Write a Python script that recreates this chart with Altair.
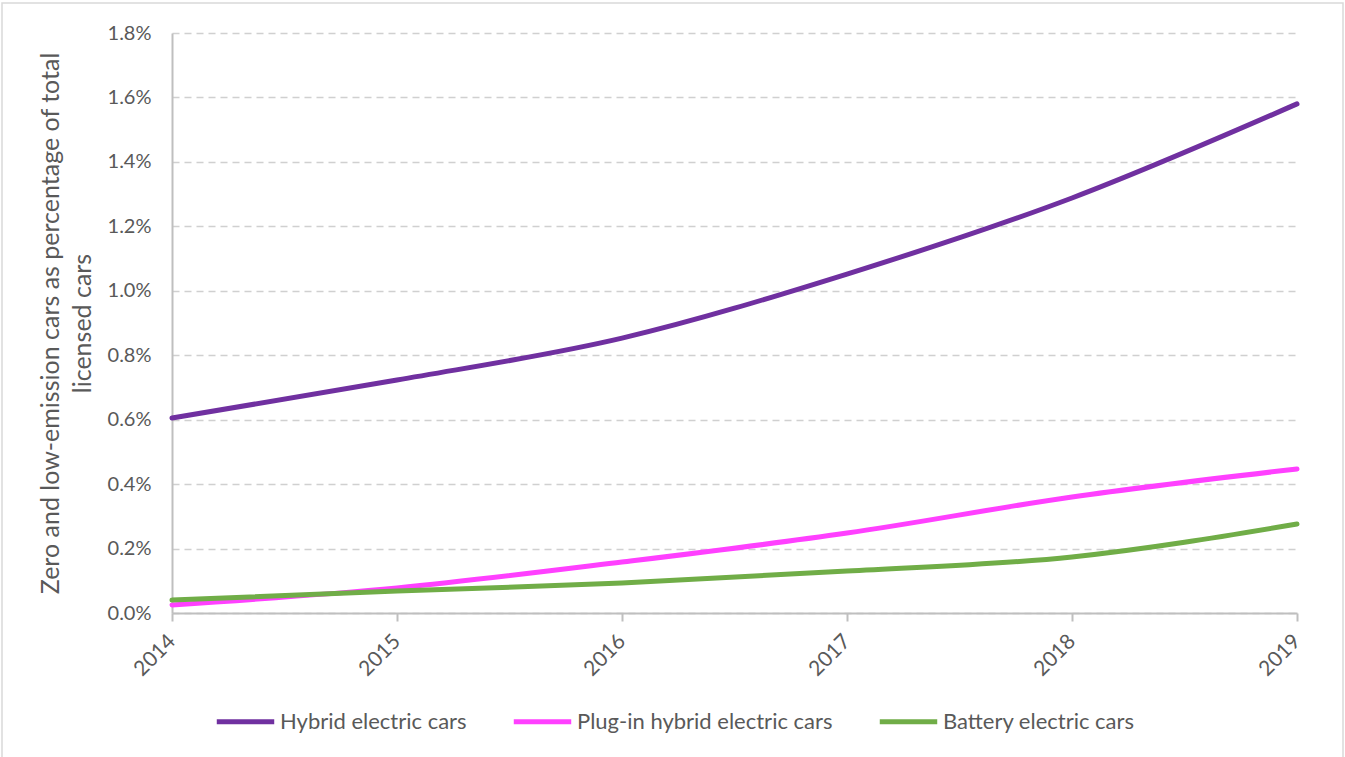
import altair as alt
import pandas as pd

years = ["2014", "2015", "2016", "2017", "2018", "2019"]
hybrid = [0.605, 0.723, 0.853, 1.052, 1.288, 1.580]
plugin = [0.025, 0.078, 0.158, 0.248, 0.360, 0.447]
battery = [0.040, 0.068, 0.093, 0.130, 0.174, 0.276]
series_names = ["Hybrid electric cars", "Plug-in hybrid electric cars", "Battery electric cars"]
series_colors = ["#7030A0", "#FF40FF", "#70AD47"]
y_ticks = [0.0, 0.002, 0.004, 0.006, 0.008, 0.010, 0.012, 0.014, 0.016, 0.018]

rows = []
for name, vals in zip(series_names, [hybrid, plugin, battery]):
    for yr, v in zip(years, vals):
        rows.append({"Year": yr, "Series": name, "Value": v / 100.0})
df = pd.DataFrame(rows)

FONT = "Lato"
GREY = "#595959"

lines = alt.Chart(df).mark_line(strokeWidth=5, interpolate="monotone", strokeCap="round").encode(
    x=alt.X("Year:O", sort=years,
            scale=alt.Scale(type="point", padding=0),
            axis=alt.Axis(title=None, labelAngle=-45, labelAlign="right", labelBaseline="middle",
                          labelFontSize=21, labelColor=GREY, labelFont=FONT, labelPadding=17,
                          domainColor="#bfbfbf", domainWidth=2, tickColor="#bfbfbf", tickWidth=2,
                          tickSize=8, grid=False)),
    y=alt.Y("Value:Q", scale=alt.Scale(domain=[0, 0.018], nice=False),
            axis=alt.Axis(values=y_ticks, format=".1%",
                          title=["Zero and low-emission cars as percentage of total", "licensed cars"],
                          titleFontSize=25, titleFont=FONT, titleColor=GREY, titleFontWeight="normal",
                          titlePadding=12, titleLineHeight=32,
                          labelFontSize=20, labelColor=GREY, labelFont=FONT, labelPadding=21,
                          domainColor="#bfbfbf", domainWidth=2, ticks=False,
                          grid=True, gridColor="#d0d0d0", gridDash=[7, 5], gridWidth=1.5)),
    color=alt.Color("Series:N", sort=series_names,
                    scale=alt.Scale(domain=series_names, range=series_colors),
                    legend=alt.Legend(title=None, orient="none", direction="horizontal",
                                      legendX=42, legendY=657, symbolType="stroke",
                                      symbolSize=3300, symbolStrokeWidth=5,
                                      labelFontSize=22, labelFont=FONT, labelColor=GREY,
                                      labelLimit=500, labelOffset=3, columnPadding=36, padding=0)),
)

frame = alt.Chart(pd.DataFrame({"a": [0]})).mark_rect(fill=None, stroke="#d9d9d9", strokeWidth=1.5).encode(
    x=alt.value(-170), x2=alt.value(1171), y=alt.value(-30), y2=alt.value(726)
)

chart = alt.layer(frame, lines).properties(
    width=1125, height=580,
    padding={"left": 172, "top": 33, "right": 48, "bottom": 144},
    autosize=alt.AutoSizeParams(type="none"),
    background="white",
).configure_view(stroke=None).configure_axis(labelFont=FONT, titleFont=FONT)

chart.save("out.html", embed_options={"renderer": "svg", "actions": False})
